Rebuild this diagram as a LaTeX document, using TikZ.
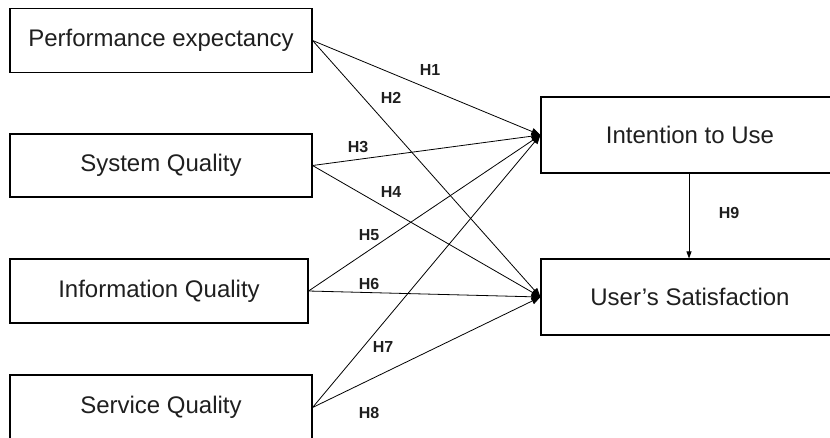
\documentclass[tikz,border=0pt]{standalone}
\usepackage{fontspec}
\setmainfont{Liberation Sans}
\usetikzlibrary{arrows.meta}
\usetikzlibrary{positioning}

\begin{document}
\begin{tikzpicture}[x=1pt, y=-1pt,
    every node/.style={text=black!88},
    construct/.style={draw, line width=1.1pt, minimum height=64pt, inner sep=0pt, font=\fontsize{24}{28}\selectfont},
    hyp/.style={font=\fontsize{16}{19}\selectfont\bfseries},
    path/.style={line width=0.8pt, -{Triangle[length=9pt,width=7pt]}}]
        \clip (0,0) rectangle (830,437);
        % exogenous constructs
        \node [construct, minimum width=302pt] (pe) at (161,40.5) {Performance expectancy};
        \node [construct, minimum width=302pt, minimum height=63pt] (sq) at (161,165.5) {System Quality};
        \node [construct, minimum width=298pt] (iq) at (159,291) {Information Quality};
        \node [construct, minimum width=302pt, minimum height=65pt] (svq) at (161,407.5) {Service Quality};
        % endogenous constructs
        \node [construct, minimum width=298pt, minimum height=76pt] (itu) at (690,135) {Intention to Use};
        \node [construct, minimum width=298pt, minimum height=76pt] (us) at (690,297) {User's Satisfaction};
        % hypotheses
        \draw [path] (pe.east) -- (itu.west);
        \draw [path] (pe.east) -- (us.west);
        \draw [path] (sq.east) -- (itu.west);
        \draw [path] (sq.east) -- (us.west);
        \draw [path] (iq.east) -- (itu.west);
        \draw [path] (iq.east) -- (us.west);
        \draw [path] (svq.east) -- (itu.west);
        \draw [path] (svq.east) -- (us.west);
        \draw [line width=0.8pt, -{Triangle[length=7pt,width=5pt]}] (itu.south -| 689,0) -- (us.north -| 689,0);
        \node [hyp] (h1) at (430,70) {H1};
        \node [hyp] (h2) at (391,98) {H2};
        \node [hyp] (h3) at (358,147) {H3};
        \node [hyp] (h4) at (391,192) {H4};
        \node [hyp] (h5) at (369,235) {H5};
        \node [hyp] (h6) at (369,284) {H6};
        \node [hyp] (h7) at (383,347) {H7};
        \node [hyp] (h8) at (369,413) {H8};
        \node [hyp] (h9) at (729,213) {H9};
      \end{tikzpicture}
\end{document}
